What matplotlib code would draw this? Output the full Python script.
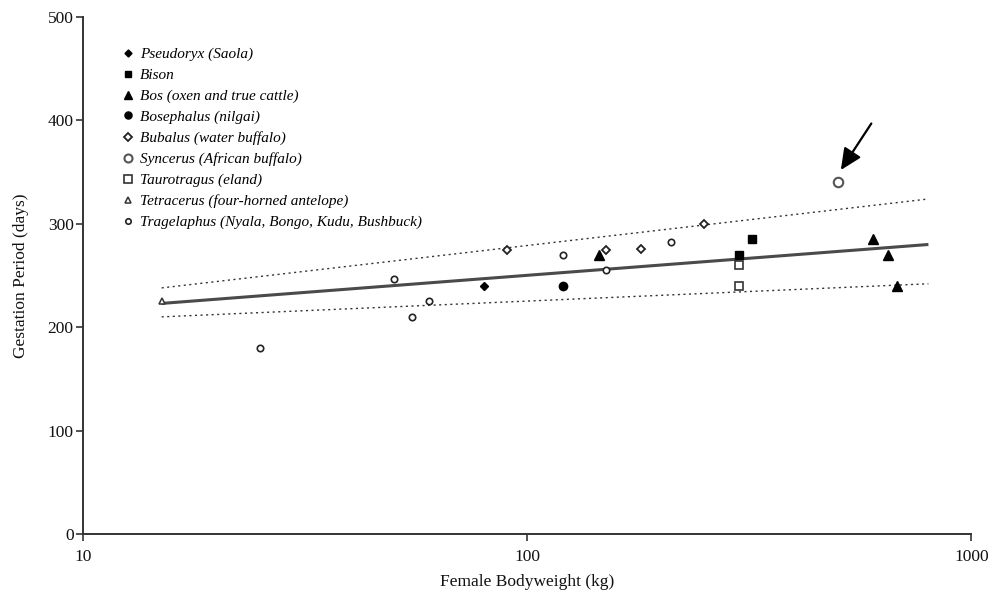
import matplotlib
matplotlib.use("Agg")
import matplotlib.pyplot as plt
from matplotlib.ticker import FixedLocator, FixedFormatter, NullLocator

plt.rcParams['font.family'] = ['Liberation Serif', 'DejaVu Serif']

# ---- data ----
pseudoryx_x = [80]
pseudoryx_y = [240]
bison_x = [300, 320]
bison_y = [270, 285]
bos_x = [145, 600, 650, 680]
bos_y = [270, 285, 270, 240]
bosephalus_x = [120]
bosephalus_y = [240]
bubalus_x = [90, 150, 180, 250]
bubalus_y = [275, 275, 276, 300]
syncerus_x = [500]
syncerus_y = [340]
taurotragus_x = [300, 300]
taurotragus_y = [260, 240]
tetracerus_x = [15]
tetracerus_y = [225]
tragelaphus_x = [25, 50, 55, 60, 120, 150, 210]
tragelaphus_y = [180, 247, 210, 225, 270, 255, 282]

fit_x = [15, 800]
fit_y = [223, 280]
upper_y = [238, 324]
lower_y = [210, 242]

arrow_from = (595, 397)
arrow_to = (508, 352)

labels = [
    "Pseudoryx (Saola)",
    "Bison",
    "Bos (oxen and true cattle)",
    "Bosephalus (nilgai)",
    "Bubalus (water buffalo)",
    "Syncerus (African buffalo)",
    "Taurotragus (eland)",
    "Tetracerus (four-horned antelope)",
    "Tragelaphus (Nyala, Bongo, Kudu, Bushbuck)",
]
x_ticks = [10, 100, 1000]
x_ticklabels = ["10", "100", "1000"]
y_ticks = [0, 100, 200, 300, 400, 500]

fig = plt.figure(figsize=(10.02, 5.96), dpi=100)
ax = fig.add_axes([0.0833, 0.104, 0.8862, 0.8675])

ax.set_xscale('log')
ax.set_xlim(10, 1000)
ax.set_ylim(0, 500)

# regression and bands
ax.plot(fit_x, fit_y, color='#4a4a4a', lw=2.2, solid_capstyle='butt', zorder=2)
ax.plot(fit_x, upper_y, color='#333333', lw=1.0, ls=(0, (1.5, 2.5)), zorder=2)
ax.plot(fit_x, lower_y, color='#333333', lw=1.0, ls=(0, (1.5, 2.5)), zorder=2)

k = 'black'
series = [
    (pseudoryx_x, pseudoryx_y, dict(marker='D', ms=4.2, mfc=k, mec=k)),
    (bison_x, bison_y, dict(marker='s', ms=5.2, mfc=k, mec=k)),
    (bos_x, bos_y, dict(marker='^', ms=6.5, mfc=k, mec=k)),
    (bosephalus_x, bosephalus_y, dict(marker='o', ms=6.0, mfc=k, mec=k)),
    (bubalus_x, bubalus_y, dict(marker='D', ms=4.5, mfc='white', mec='#222222', mew=1.3)),
    (syncerus_x, syncerus_y, dict(marker='o', ms=6.8, mfc='white', mec='#555555', mew=1.5)),
    (taurotragus_x, taurotragus_y, dict(marker='s', ms=6.0, mfc='white', mec='#333333', mew=1.2)),
    (tetracerus_x, tetracerus_y, dict(marker='^', ms=5.0, mfc='white', mec='#333333', mew=1.1)),
    (tragelaphus_x, tragelaphus_y, dict(marker='o', ms=4.6, mfc='white', mec='#222222', mew=1.2)),
]
handles = []
for (xs, ys, st), lab in zip(series, labels):
    h, = ax.plot(xs, ys, ls='none', label=lab, zorder=3, **st)
    handles.append(h)

ax.annotate('', xy=arrow_to, xytext=arrow_from,
            arrowprops=dict(arrowstyle='-|>,head_length=1.3,head_width=0.6',
                            color='black', lw=1.6, shrinkA=0, shrinkB=0))

leg = ax.legend(handles=handles, loc='upper left', bbox_to_anchor=(0.0385, 0.953),
                frameon=False, handlelength=0.6, handletextpad=0.45,
                labelspacing=0.465, borderaxespad=0, markerscale=0.85,
                prop=dict(family='Liberation Serif', style='italic', size=11))

for sp in ['top', 'right']:
    ax.spines[sp].set_visible(False)
for sp in ['left', 'bottom']:
    ax.spines[sp].set_color('#333333')
    ax.spines[sp].set_linewidth(1.4)

ax.xaxis.set_major_locator(FixedLocator(x_ticks))
ax.xaxis.set_major_formatter(FixedFormatter(x_ticklabels))
ax.xaxis.set_minor_locator(NullLocator())
ax.set_yticks(y_ticks)
ax.tick_params(axis='both', direction='out', length=5, width=1.2, color='#333333',
               labelsize=12.5, labelcolor='#111111')
ax.tick_params(axis='x', pad=5.6)
ax.tick_params(axis='y', pad=2)

ax.set_xlabel("Female Bodyweight (kg)", fontsize=12.5, labelpad=6.5, color='#111111')
ax.set_ylabel("Gestation Period (days)", fontsize=12.5, labelpad=13.5, color='#111111')

fig.savefig("out.png", dpi=100)
